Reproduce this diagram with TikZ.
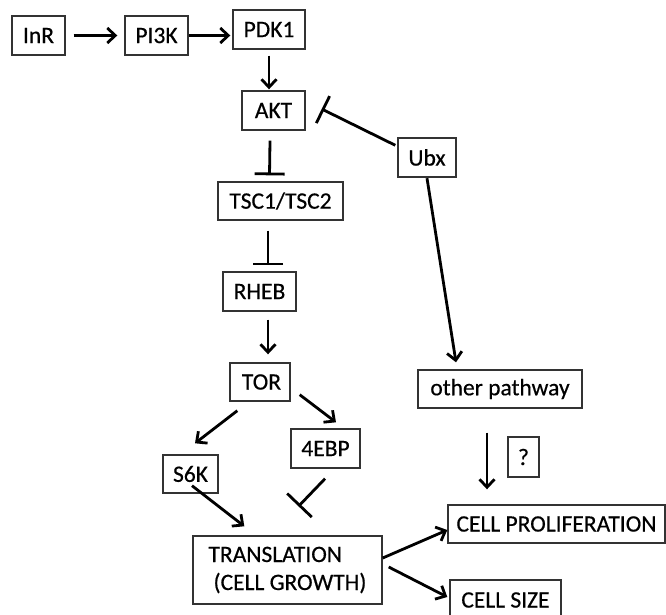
\documentclass[tikz,border=0pt]{standalone}
\usepackage{fontspec}
\setmainfont{Carlito}[FakeBold=0.5]
\usetikzlibrary{arrows.meta,calc}
\begin{document}
\begin{tikzpicture}[x=1pt,y=-1pt,
  box/.style={draw=black!80, line width=1.4pt, inner sep=0pt, font=\fontsize{23.5}{28}\selectfont},
  arr/.style={line width=2.8pt, -{Straight Barb[length=8pt,width=15pt,line width=2.8pt]}},
  inh/.style={line width=2.8pt, -{Bar[width=30pt,line width=2.8pt]}}]
\useasboundingbox (0,0) rectangle (666,615);
\clip (0,0) rectangle (666,615);
% nodes
\node[box, minimum width=53pt, minimum height=39pt] (inr) at (38.5,35.5) {InR};
\node[box, minimum width=63pt, minimum height=39pt] (pi3k) at (156.5,35.5) {PI3K};
\node[box, minimum width=72pt, minimum height=39pt] (pdk1) at (269,29.5) {PDK1};
\node[box, minimum width=63pt, minimum height=39pt] (akt) at (273.5,110.5) {AKT};
\node[box, minimum width=125pt, minimum height=38pt] (tsc) at (280.5,201) {TSC1/TSC2};
\node[box, minimum width=73pt, minimum height=39pt] (rheb) at (259.5,291.5) {RHEB};
\node[box, minimum width=60pt, minimum height=38pt] (tor) at (260,382) {\hspace{3pt}TOR};
\node[box, minimum width=69pt, minimum height=39pt] (febp) at (325.5,448.5) {4EBP};
\node[box, minimum width=55pt, minimum height=38pt] (s6k) at (190.5,474) {S6K};
\node[box, minimum width=189pt, minimum height=68pt, align=left] (trans) at (287.5,570) {TRANSLATION\\\hspace{5pt}(CELL GROWTH)};
\node[box, minimum width=217pt, minimum height=38pt] (cp) at (556.5,524) {CELL PROLIFERATION};
\node[box, minimum width=111pt, minimum height=40pt] (cs) at (505.5,600) {CELL SIZE};
\node[box, minimum width=164pt, minimum height=38pt] (other) at (500,389) {other pathway};
\node[box, minimum width=31pt, minimum height=40pt] (q) at (523.5,457) {?};
\node[box, minimum width=58pt, minimum height=39pt] (ubx) at (427,157.5) {Ubx};
% connectors
\draw[arr] ([xshift=8pt]inr.east) -- ([xshift=-7pt]pi3k.west);
\draw[arr, shorten >=2pt] (pi3k.east) -- (pi3k.east -| pdk1.west);
\draw[arr, shorten <=6pt, shorten >=1pt] (pdk1.south) -- (pdk1.south |- akt.north);
\draw[inh] ($(akt.south)+(-3.5,10)$) -- ($(tsc.north)+(-11,-6)$);
\draw[inh] ($(tsc.south)+(-12.5,10)$) -- ($(rheb.north)+(8.5,-6)$);
\draw[arr] ($(rheb.south)+(8.5,8)$) -- ($(tor.north)+(8,-8)$);
\draw[arr] ($(tor.south west)+(8,9)$) -- ($(s6k.north)+(4.5,-11)$);
\draw[arr] ($(tor.south east)+(9,-7)$) -- ($(febp.north)+(10.5,-6)$);
\draw[arr] ($(s6k.south)+(1.5,-8)$) -- ($(trans.north west)+(52,-9)$);
\draw[line width=2.8pt, -{Bar[width=34pt,line width=2.8pt]}] ($(febp.south)+(-0.5,10)$) -- ($(trans.north)+(11,-29)$);
\draw[arr] ($(trans.east)+(0,-12)$) -- ($(cp.west)+(0,6)$);
\draw[arr] ($(trans.east)+(6,-3)$) -- ($(cs.west)+(-2,-3)$);
\draw[arr] ($(other.south)+(-13,24)$) -- ($(cp.north)+(-69.5,-15)$);
\draw[inh] ($(ubx.north west)+(-2,8)$) -- ($(akt.east)+(16,-1.5)$);
\draw[arr] ($(ubx.south)+(0,0.5)$) -- ($(other.north)+(-44,-7)$);
\end{tikzpicture}
\end{document}
